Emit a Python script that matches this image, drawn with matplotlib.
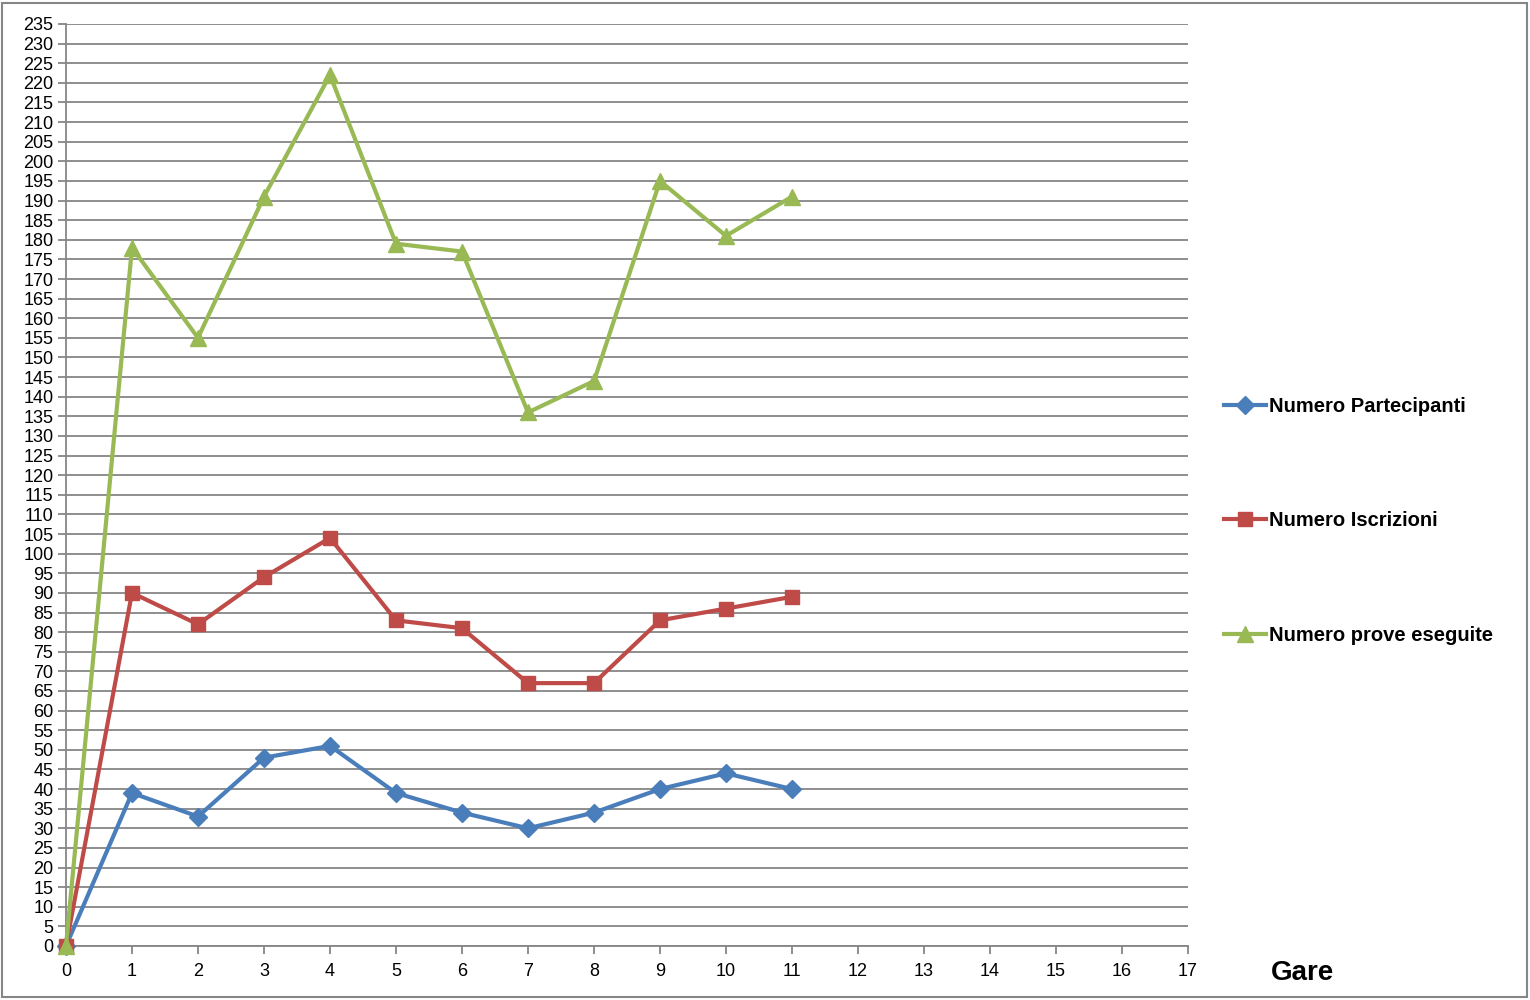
import matplotlib
matplotlib.use("Agg")
import matplotlib.pyplot as plt
from matplotlib.patches import Rectangle

gare = [0, 1, 2, 3, 4, 5, 6, 7, 8, 9, 10, 11]
partecipanti = [0, 39, 33, 48, 51, 39, 34, 30, 34, 40, 44, 40]
iscrizioni = [0, 90, 82, 94, 104, 83, 81, 67, 67, 83, 86, 89]
prove = [0, 178, 155, 191, 222, 179, 177, 136, 144, 195, 181, 191]

plt.rcParams['font.family'] = ['Liberation Sans', 'DejaVu Sans']

fig = plt.figure(figsize=(15.3, 10), dpi=100)
ax = fig.add_axes([66 / 1530, 1 - 946 / 1000, (1188 - 66) / 1530, (946 - 24) / 1000])

grey = "#868686"
ax.plot(gare, partecipanti, color="#4A7EBB", lw=3, marker="D", ms=9, label="Numero Partecipanti", clip_on=False, zorder=3)
ax.plot(gare, iscrizioni, color="#BE4B48", lw=3, marker="s", ms=10, label="Numero Iscrizioni", clip_on=False, zorder=4)
ax.plot(gare, prove, color="#98B954", lw=3, marker="^", ms=11, label="Numero prove eseguite", clip_on=False, zorder=5)

ax.set_xlim(0, 17)
ax.set_ylim(0, 235)
ax.set_xticks(range(0, 18))
ax.set_yticks(range(0, 236, 5))
ax.yaxis.grid(True, color=grey, lw=1.3)
ax.set_axisbelow(True)
for s in ["top", "right"]:
    ax.spines[s].set_visible(False)
for s in ["left", "bottom"]:
    ax.spines[s].set_color(grey)
    ax.spines[s].set_linewidth(1.3)
ax.tick_params(axis="both", colors=grey, labelcolor="black", labelsize=13, length=6, width=1.3)
ax.tick_params(axis="x", pad=6)
ax.tick_params(axis="y", pad=3)

fig.text(1302 / 1530, 1 - 973 / 1000, "Gare", fontsize=20, fontweight="bold", ha="center", va="center")

leg = ax.legend(loc="center left", bbox_to_anchor=(0.7945, 0.479), bbox_transform=fig.transFigure,
                frameon=False, prop={"weight": "bold", "size": 14.5}, labelspacing=4.75,
                handlelength=2.1, handletextpad=0.15, borderaxespad=0)

fig.patches.append(Rectangle((2 / 1530, 3 / 1000), 1525 / 1530, 994 / 1000, transform=fig.transFigure,
                             fill=False, edgecolor=grey, lw=1.5))

fig.savefig("out.png", dpi=100)
